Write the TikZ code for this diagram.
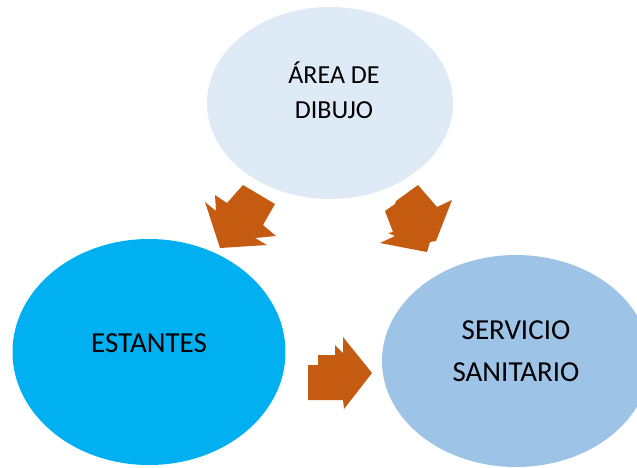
\documentclass[tikz,border=0pt]{standalone}
\usepackage{fontspec}
\setmainfont{Carlito}
\usetikzlibrary{shapes.geometric}
\definecolor{areac}{HTML}{DEEAF6}
\definecolor{estc}{HTML}{00B0F0}
\definecolor{servc}{HTML}{9DC3E6}
\definecolor{arrc}{HTML}{C55A11}
\begin{document}
\begin{tikzpicture}[x=1pt,y=-1pt,
  blob/.style={ellipse, draw=none, inner sep=0pt},
  lbl/.style={align=center, inner sep=0pt, text=black},
  blockarrow/.style={fill=arrc, draw=none}]
\useasboundingbox (0,0) rectangle (637,467);
\begin{scope}
\clip (0,0) rectangle (637,467);
\node[blob, fill=areac, minimum width=246pt, minimum height=192pt] (area) at (330,103) {};
\node[blob, fill=estc, minimum width=273pt, minimum height=226pt] (est) at (149,352) {};
\node[blob, fill=servc, minimum width=268pt, minimum height=212pt] (serv) at (516,361) {};
\end{scope}
\node[lbl, font=\fontsize{26}{35}\selectfont] (areat) at (334,90) {ÁREA DE\\DIBUJO};
\node[lbl, font=\fontsize{29}{35}\selectfont] (estt) at (149,343) {ESTANTES};
\node[lbl, font=\fontsize{29}{42}\selectfont] (servt) at (516,351) {SERVICIO\\SANITARIO};
% block arrows
\fill[blockarrow] (243,185) -- (275,204) -- (263,225) -- (276,236) -- (255,238) -- (267,245)
  -- (220,248) -- (205,202) -- (216,211) -- (215,195) -- (227,203) -- cycle;
\fill[blockarrow] (418,185) -- (437,207) -- (452,200) -- (436,241) -- (430,242) -- (427,252)
  -- (380,243) -- (395,236) -- (388,233) -- (393,232) -- (385,211) -- (395,204) -- (396,201) -- cycle;
\fill[blockarrow] (308,365) -- (318,365) -- (318,355) -- (335,355) -- (335,345) -- (343,353)
  -- (343,337) -- (372,373) -- (344,409) -- (343,400) -- (308,400) -- cycle;
\end{tikzpicture}
\end{document}
